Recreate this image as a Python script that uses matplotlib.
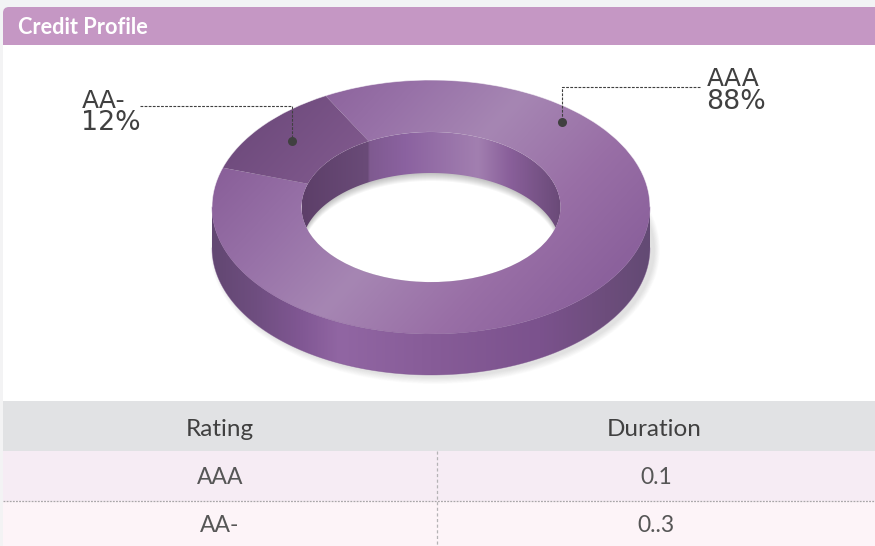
import matplotlib
matplotlib.use('Agg')
import matplotlib.pyplot as plt
import numpy as np
from matplotlib.colors import LinearSegmentedColormap
from matplotlib.patches import Wedge, Polygon, Ellipse, Rectangle, FancyBboxPatch
from matplotlib.transforms import Affine2D

title = 'Credit Profile'
ratings = ['AAA', 'AA-']
shares = [88, 12]
table_head = ['Rating', 'Duration']
durations = ['0.1', '0..3']

fig = plt.figure(figsize=(8.75, 5.46), dpi=100)
ax = fig.add_axes([0, 0, 1, 1])
ax.axis('off')
fig.patch.set_facecolor('#f2f3f5')


def grad_rect(x0, y0, x1, y1, cmap, clip, z):
    # horizontal gradient, cut by a patch
    g = np.linspace(0, 1, 400).reshape(1, -1)
    im = ax.imshow(g, extent=[x0, x1, y1, y0], cmap=cmap, aspect='auto', zorder=z)
    im.set_clip_path(clip)
    return im


def cm(*stops):
    return LinearSegmentedColormap.from_list('c', list(stops))


# panel, header
ax.add_patch(Rectangle((3, 20), 880, 381, fc='white', ec='none', zorder=1))
ax.add_patch(FancyBboxPatch((8, 12), 880, 40, boxstyle='round,pad=5,rounding_size=6',
                            fc='#c597c4', ec='none', zorder=2))
ax.add_patch(Rectangle((0, 45), 875, 20, fc='white', ec='none', zorder=3))
ax.add_patch(Rectangle((0, 45), 3, 356, fc='#f3f3f4', ec='none', zorder=3))
ax.text(18, 27.5, title, color='white', fontsize=15.7, fontweight='bold', family='Lato',
        va='center', zorder=4)

# donut geometry
cx, cy = 431, 207
a, b = 219, 127
ia, ib = 129.5, 75
depth = 41
start = 118.8
to_px = Affine2D().scale(a, -b).translate(cx, cy) + ax.transData

# soft shadow under the ring
for k in range(10, 0, -1):
    ax.add_patch(Ellipse((cx + 4, cy + depth + 2), 2 * (a + k * 0.6), 2 * (b + k * 0.7),
                         fc='black', ec='none', alpha=0.013, zorder=5))

# outer wall
th = np.radians(np.linspace(180, 360, 200))
top_x = cx + a * np.cos(th)
top_y = cy - b * np.sin(th)
wall = Polygon(np.r_[np.c_[top_x, top_y], np.c_[top_x[::-1], top_y[::-1] + depth]],
               closed=True, fc='none', ec='none', transform=ax.transData, zorder=6)
ax.add_patch(Ellipse((cx, cy), 2 * ia, 2 * ib, fc='white', ec='none', zorder=5.5))
ax.add_patch(wall)
wall_cm = LinearSegmentedColormap.from_list('w', [(0, '#624772'), (0.1, '#6f4e80'), (0.2, '#805793'),
                                                  (0.29, '#9166a3'), (0.5, '#875c98'), (0.75, '#7b528d'),
                                                  (0.9, '#6d4d7c'), (1, '#634a74')])
grad_rect(cx - a, cy, cx + a, cy + b + depth, wall_cm, wall, 6)
ax.plot(top_x, top_y + depth, color='#7d5490', lw=0.5, alpha=0.5, zorder=6.1)

# hole shadow and inner wall
t1 = np.degrees(np.arcsin(depth / 2 / ib))
t_up = np.radians(np.linspace(180 + t1, -t1, 200))
t_lo = np.radians(np.linspace(t1, 180 - t1, 200))
inner_pts = np.r_[np.c_[cx + ia * np.cos(t_up), cy - ib * np.sin(t_up)],
                  np.c_[cx + ia * np.cos(t_lo), cy + depth - ib * np.sin(t_lo)]]
hole = Ellipse((cx, cy), 2 * ia, 2 * ib, fc='none', ec='none', zorder=6.5)
ax.add_patch(hole)
for k in range(1, 9):
    p = Polygon(inner_pts + [0, k], closed=True, fc='black', ec='none', alpha=0.03, zorder=6.5)
    ax.add_patch(p)
    p.set_clip_path(hole)
inner = Polygon(inner_pts, closed=True, fc='none', ec='none', zorder=7)
ax.add_patch(inner)
inner_cm = LinearSegmentedColormap.from_list('i', [(0, '#5d3f69'), (0.254, '#6a4b78'), (0.26, '#7f5a90'),
                                                   (0.4, '#8b62a0'), (0.68, '#a27fb0'), (0.8, '#8a609b'),
                                                   (1, '#6a4a78')])
grad_rect(cx - ia, cy - ib, cx + ia, cy + depth, inner_cm, inner, 7)

# top of the ring, slices from the shares
sweep = [s * 3.6 for s in shares]
aaa = Wedge((0, 0), 1, start + sweep[1], start + 360, width=1 - ia / a, fc='none', ec='none', transform=to_px, zorder=8)
aam = Wedge((0, 0), 1, start, start + sweep[1], width=1 - ia / a, fc='none', ec='none', transform=to_px, zorder=8)
ax.add_patch(aaa)
ax.add_patch(aam)
xx, yy = np.meshgrid(np.arange(cx - a, cx + a + 1), np.arange(cy - b, cy + b + 1))
tt = (xx - 333) * 0.735 + (yy - 300) * 0.677
top_cm = LinearSegmentedColormap.from_list('t', [(0, '#895f99'), (0.25, '#9872a8'), (0.48, '#a686b3'),
                                                 (0.75, '#996fa6'), (1, '#8b619c')])
im = ax.imshow(np.clip((tt + 175) / 365, 0, 1), extent=[cx - a, cx + a, cy + b, cy - b], cmap=top_cm,
               vmin=0, vmax=1, aspect='auto', zorder=8)
im.set_clip_path(aaa)
dark_cm = cm('#704c7e', '#80598d')
im2 = ax.imshow(np.clip((tt + 175) / 100, 0, 1), extent=[cx - a, cx + a, cy + b, cy - b], cmap=dark_cm,
                vmin=0, vmax=1, aspect='auto', zorder=8.1)
im2.set_clip_path(aam)

# soften the clipped upper rim
up = np.radians(np.linspace(0, 180, 200))
ax.plot(cx + a * np.cos(up), cy - b * np.sin(up), color='white', lw=0.6, alpha=0.6, zorder=8.5)
low = np.radians(np.linspace(180, 360, 200))
ax.plot(cx + a * np.cos(low), cy - b * np.sin(low), color='#8b619c', lw=0.5, alpha=0.6, zorder=8.5)

# leader lines
dk = '#404040'
ax.plot([140, 292, 292], [106, 106, 141], color=dk, lw=0.8, ls=(0, (2.5, 1.2)), zorder=9)
ax.plot([700, 562, 562], [87, 87, 122], color=dk, lw=0.8, ls=(0, (2.5, 1.2)), zorder=9)
ax.plot([292, 562], [141, 122], ls='none', marker='o', ms=6.5, color=dk, mew=0, zorder=10)

ax.text(82, 101, ratings[1], fontsize=18, color=dk, va='center', zorder=10)
ax.text(81, 123, '%d%%' % shares[1], fontsize=19.3, color=dk, va='center', zorder=10)
ax.text(707, 79, ratings[0], fontsize=18, color=dk, va='center', zorder=10)
ax.text(706, 102, '%d%%' % shares[0], fontsize=19.3, color=dk, va='center', zorder=10)

# table
ax.add_patch(Rectangle((3, 401), 872, 50, fc='#e1e2e4', ec='none', zorder=2))
ax.add_patch(Rectangle((3, 451), 872, 50, fc='#f6ecf4', ec='none', zorder=2))
ax.add_patch(Rectangle((3, 501), 872, 45, fc='#fdf4f8', ec='none', zorder=2))
ax.add_patch(Rectangle((0, 401), 3, 145, fc='#f3f3f4', ec='none', zorder=2))
ax.plot([3, 875], [501, 501], color='#a9a6a9', lw=0.9, ls=(0, (1.5, 1)), zorder=3)
ax.plot([437, 437], [451, 546], color='#b5b3b5', lw=0.9, ls=(0, (2.5, 2)), zorder=3)
col_x = [220, 654]
for x, h in zip(col_x, table_head):
    ax.text(x, 429, h, fontsize=17.5, color='#404040', family='Lato', ha='center', va='center', zorder=4)
for i, (r, d) in enumerate(zip(ratings, durations)):
    y = 477 + i * 49
    ax.text(col_x[0], y, r, fontsize=16.5, color='#565656', family='Lato', ha='center', va='center', zorder=4)
    ax.text(col_x[1] + 2, y, d, fontsize=16.5, color='#565656', family='Lato', ha='center', va='center', zorder=4)

ax.set_xlim(0, 875)
ax.set_ylim(546, 0)
fig.savefig('out.png', dpi=100, facecolor=fig.get_facecolor())
